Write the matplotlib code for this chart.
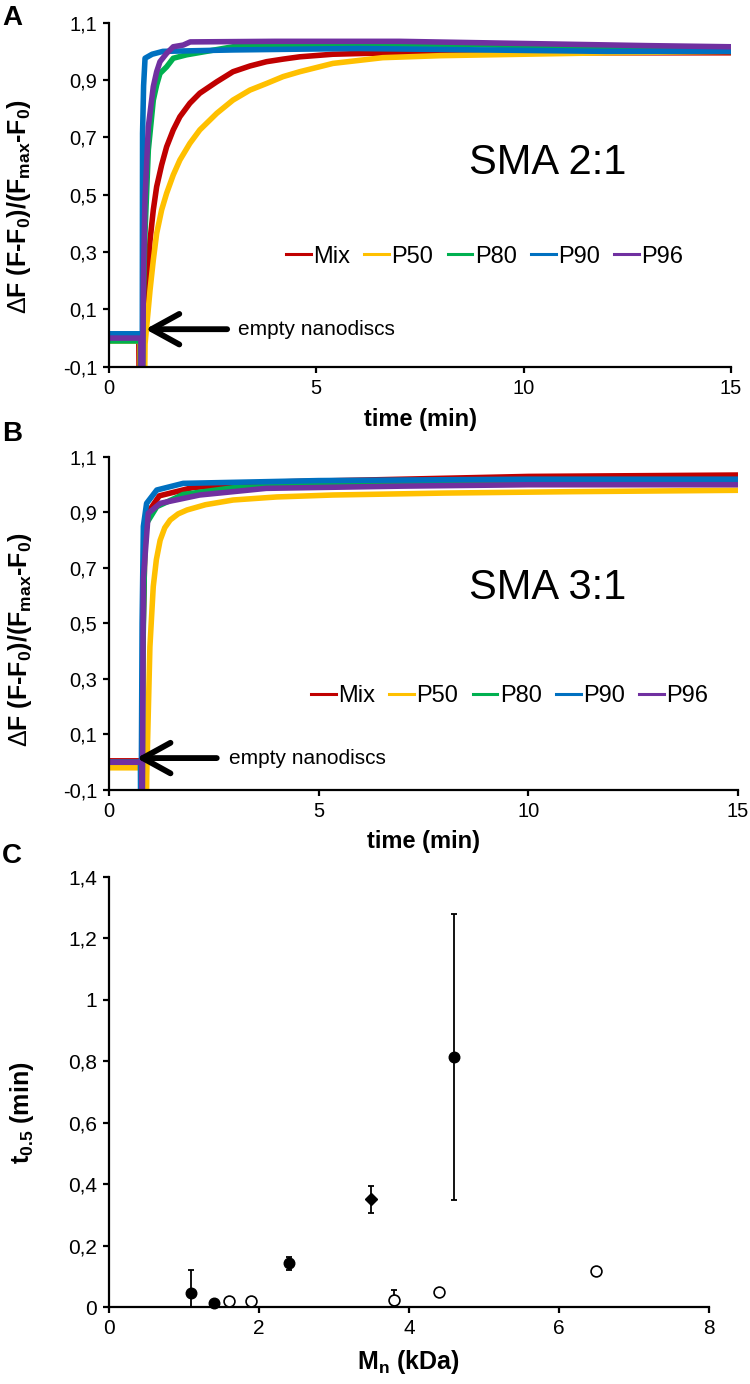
import matplotlib
matplotlib.use("Agg")
import matplotlib.pyplot as plt
from matplotlib.ticker import FuncFormatter
from matplotlib.lines import Line2D

plt.rcParams['font.family'] = ['Liberation Sans', 'DejaVu Sans']
plt.rcParams['mathtext.fontset'] = 'custom'
plt.rcParams['mathtext.rm'] = 'Liberation Sans'
plt.rcParams['mathtext.bf'] = 'Liberation Sans:bold'
plt.rcParams['mathtext.it'] = 'Liberation Sans:italic'

# ---- data ----
names = ['Mix', 'P50', 'P80', 'P90', 'P96']
colors = ['#C00000', '#FFC000', '#00B050', '#0070C0', '#7030A0']

# panel A, SMA 2:1 (time in min, normalised signal)
a_mix_t = [0, 0.72, 0.74, 0.80, 0.84, 0.91, 0.99, 1.069, 1.15, 1.27, 1.39, 1.55, 1.71, 1.95, 2.19, 2.60,
           2.99, 3.40, 3.8, 4.2, 4.6, 5.4, 6.2, 8.0, 10, 12, 15]
a_mix_v = [0.0, 0.0, -0.4, -0.4, 0.05, 0.15, 0.34, 0.447, 0.528, 0.604, 0.667, 0.726, 0.772, 0.819, 0.854,
           0.894, 0.929, 0.949, 0.964, 0.973, 0.981, 0.99, 0.993, 0.995, 0.995, 0.995, 0.995]
a_p50_t = [0, 0.75, 0.77, 0.84, 0.87, 0.909, 0.99, 1.069, 1.15, 1.27, 1.39, 1.55, 1.71, 1.95, 2.19, 2.60,
           2.99, 3.40, 3.8, 4.2, 4.6, 5.4, 6.6, 8.0, 10, 12, 15]
a_p50_v = [-0.01, -0.01, -0.4, -0.4, -0.02, 0.04, 0.167, 0.272, 0.365, 0.447, 0.505, 0.569, 0.621, 0.679,
           0.726, 0.784, 0.83, 0.865, 0.888, 0.912, 0.929, 0.958, 0.978, 0.985, 0.99, 0.995, 1.0]
a_p80_t = [0, 0.76, 0.77, 0.80, 0.82, 0.868, 0.949, 1.069, 1.15, 1.23, 1.39, 1.55, 1.87, 2.99, 5.0, 8.0,
           10, 12, 15]
a_p80_v = [-0.01, -0.01, -0.4, -0.4, 0.1, 0.365, 0.656, 0.83, 0.883, 0.923, 0.946, 0.976, 0.988, 1.016,
           1.025, 1.025, 1.02, 1.01, 1.0]
a_p90_t = [0, 0.79, 0.80, 0.81, 0.835, 0.87, 1.04, 1.3, 3.0, 6.0, 9.0, 12, 15]
a_p90_v = [0.015, 0.015, -0.4, 0.714, 0.88, 0.976, 0.99, 1.0, 1.005, 1.01, 1.005, 1.0, 1.0]
a_p96_t = [0, 0.77, 0.78, 0.80, 0.83, 0.868, 0.949, 1.069, 1.15, 1.23, 1.39, 1.55, 1.79, 1.96, 4.0, 7.0,
           9.0, 11, 13, 15]
a_p96_v = [0.0, 0.0, -0.4, -0.4, 0.2, 0.481, 0.737, 0.877, 0.929, 0.964, 0.993, 1.016, 1.022, 1.033,
           1.035, 1.035, 1.03, 1.025, 1.02, 1.016]

# panel B, SMA 3:1
b_mix_t = [0, 0.77, 0.78, 0.81, 0.86, 0.93, 1.2, 2.0, 4.0, 7.0, 10, 15]
b_mix_v = [0.005, 0.005, -0.4, 0.45, 0.8, 0.9, 0.96, 0.99, 1.01, 1.02, 1.03, 1.035]
b_p50_t = [0, 0.80, 0.81, 0.88, 0.90, 0.976, 1.056, 1.13, 1.22, 1.33, 1.46, 1.65, 1.86, 2.3, 2.96, 4.0,
           5.34, 8.0, 11, 15]
b_p50_v = [-0.02, -0.02, -0.4, -0.4, -0.05, 0.416, 0.633, 0.73, 0.80, 0.845, 0.873, 0.895, 0.909, 0.928,
           0.945, 0.956, 0.963, 0.97, 0.975, 0.98]
b_p80_t = [0, 0.77, 0.78, 0.81, 0.85, 0.897, 1.14, 1.77, 2.96, 6.0, 10, 15]
b_p80_v = [0.0, 0.0, -0.4, 0.4, 0.75, 0.861, 0.921, 0.965, 0.989, 1.005, 1.01, 1.01]
b_p90_t = [0, 0.75, 0.76, 0.79, 0.82, 0.897, 1.14, 1.77, 5.0, 10, 15]
b_p90_v = [0.0, 0.0, -0.4, 0.5, 0.85, 0.933, 0.981, 1.005, 1.015, 1.02, 1.02]
b_p96_t = [0, 0.78, 0.79, 0.817, 0.937, 1.22, 2.16, 3.75, 7.0, 10, 15]
b_p96_v = [0.0, 0.0, -0.4, 0.657, 0.897, 0.933, 0.963, 0.987, 0.995, 1.0, 1.0]

# panel C, t0.5 vs Mn
filled_mn = [1.1, 1.4, 2.4, 4.6]
filled_t = [0.047, 0.012, 0.142, 0.815]
filled_err = [0.075, 0.0, 0.021, 0.465]
diamond_mn = [3.5]
diamond_t = [0.351]
diamond_err = [0.044]
open_mn = [1.6, 1.9, 3.8, 4.4, 6.5]
open_t = [0.020, 0.021, 0.022, 0.049, 0.118]
open_err = [0.0, 0.0, 0.033, 0.0, 0.0]

fig = plt.figure(figsize=(7.5, 13.84), dpi=100)

axA = fig.add_axes([0.1453, 0.7350, 0.8293, 0.2486])
axB = fig.add_axes([0.1453, 0.4292, 0.8387, 0.2406])
axC = fig.add_axes([0.1453, 0.0556, 0.8000, 0.3107])


def comma_fmt(v, pos):
    s = '%.1f' % v
    if s.endswith('.0'):
        s = s[:-2]
    return s.replace('.', ',')


def style_axis(ax):
    for side in ['top', 'right']:
        ax.spines[side].set_visible(False)
    for side in ['left', 'bottom']:
        ax.spines[side].set_linewidth(1.6)
    ax.tick_params(direction='out', length=4.5, width=1.6, labelsize=14.5, pad=4)


def kinetic_panel(ax, series, label, title, leg_xy, arrow_tail, arrow_head, txt_x, arrow_y):
    for (t, v), c in zip(series, colors):
        ax.plot(t, v, color=c, lw=4, solid_joinstyle='round')
    ax.set_xlim(0, 15)
    ax.set_ylim(-0.1, 1.1)
    ax.set_xticks([0, 5, 10, 15])
    ax.set_yticks([-0.1, 0.1, 0.3, 0.5, 0.7, 0.9, 1.1])
    ax.yaxis.set_major_formatter(FuncFormatter(lambda v, p: ('%.1f' % v).replace('.', ',')))
    style_axis(ax)
    handles = [Line2D([], [], color=c, lw=2.2) for c in colors]
    ax.legend(handles, names, loc='center', bbox_to_anchor=leg_xy, ncol=5, frameon=False,
              fontsize=17, handlelength=1.05, handletextpad=0.1, columnspacing=0.6,
              borderaxespad=0)
    ax.text(title[0], title[1], label, transform=ax.transAxes, fontsize=30,
            ha='center', va='center')
    ax.annotate('', xy=(arrow_head, arrow_y), xytext=(arrow_tail, arrow_y),
                arrowprops=dict(arrowstyle='->,head_length=1.0,head_width=0.55',
                                lw=4.2, color='black', mutation_scale=20,
                                shrinkA=0, shrinkB=0))
    ax.text(txt_x, arrow_y, 'empty nanodiscs', fontsize=15, ha='left', va='center')


kinetic_panel(axA,
              [(a_mix_t, a_mix_v), (a_p50_t, a_p50_v), (a_p80_t, a_p80_v),
               (a_p90_t, a_p90_v), (a_p96_t, a_p96_v)],
              'SMA 2:1', (0.705, 0.592), (0.604, 0.32), 2.85, 0.88, 3.1, 0.031)
kinetic_panel(axB,
              [(b_mix_t, b_mix_v), (b_p50_t, b_p50_v), (b_p80_t, b_p80_v),
               (b_p90_t, b_p90_v), (b_p96_t, b_p96_v)],
              'SMA 3:1', (0.697, 0.607), (0.637, 0.282), 2.57, 0.66, 2.86, 0.015)

# panel C
for mn, t, err in [(filled_mn, filled_t, filled_err), (diamond_mn, diamond_t, diamond_err),
                   (open_mn, open_t, open_err)]:
    axC.errorbar(mn, t, yerr=err, fmt='none', ecolor='black',
                 elinewidth=1.3, capsize=2, capthick=1.3)
axC.plot(filled_mn, filled_t, 'o', ms=7.6, mfc='black', mec='black', clip_on=False, zorder=4)
axC.plot(diamond_mn, diamond_t, 'D', ms=6.6, mfc='black', mec='black', clip_on=False, zorder=4)
axC.plot(open_mn, open_t, 'o', ms=7.8, mfc='white', mec='black', mew=1.2, clip_on=False, zorder=4)
axC.set_xlim(0, 8)
axC.set_ylim(0, 1.4)
axC.set_xticks([0, 2, 4, 6, 8])
axC.set_yticks([0, 0.2, 0.4, 0.6, 0.8, 1.0, 1.2, 1.4])
axC.yaxis.set_major_formatter(FuncFormatter(comma_fmt))
style_axis(axC)
axC.tick_params(labelsize=15)

# axis labels
ylab = r'$\Delta$F (F-F$_\mathbf{0}$)/(F$_\mathbf{max}$-F$_\mathbf{0}$)'
fig.text(0.025, 0.851, ylab, rotation=90, ha='center', va='center', fontsize=18, fontweight='bold')
fig.text(0.027, 0.538, ylab, rotation=90, ha='center', va='center', fontsize=18, fontweight='bold')
fig.text(0.56, 0.697, 'time (min)', ha='center', va='center', fontsize=17, fontweight='bold')
fig.text(0.565, 0.392, 'time (min)', ha='center', va='center', fontsize=17, fontweight='bold')
fig.text(0.03, 0.196, r't$_\mathbf{0.5}$ (min)', rotation=90, ha='center', va='center',
         fontsize=18, fontweight='bold')
fig.text(0.545, 0.016, r'M$_\mathbf{n}$ (kDa)', ha='center', va='center', fontsize=18,
         fontweight='bold')

# panel letters
fig.text(0.003, 1 - 18 / 1384, 'A', fontsize=20, fontweight='bold', va='center')
fig.text(0.003, 1 - 434 / 1384, 'B', fontsize=20, fontweight='bold', va='center')
fig.text(0.003, 1 - 856 / 1384, 'C', fontsize=20, fontweight='bold', va='center')

fig.savefig('out.png', dpi=100)
